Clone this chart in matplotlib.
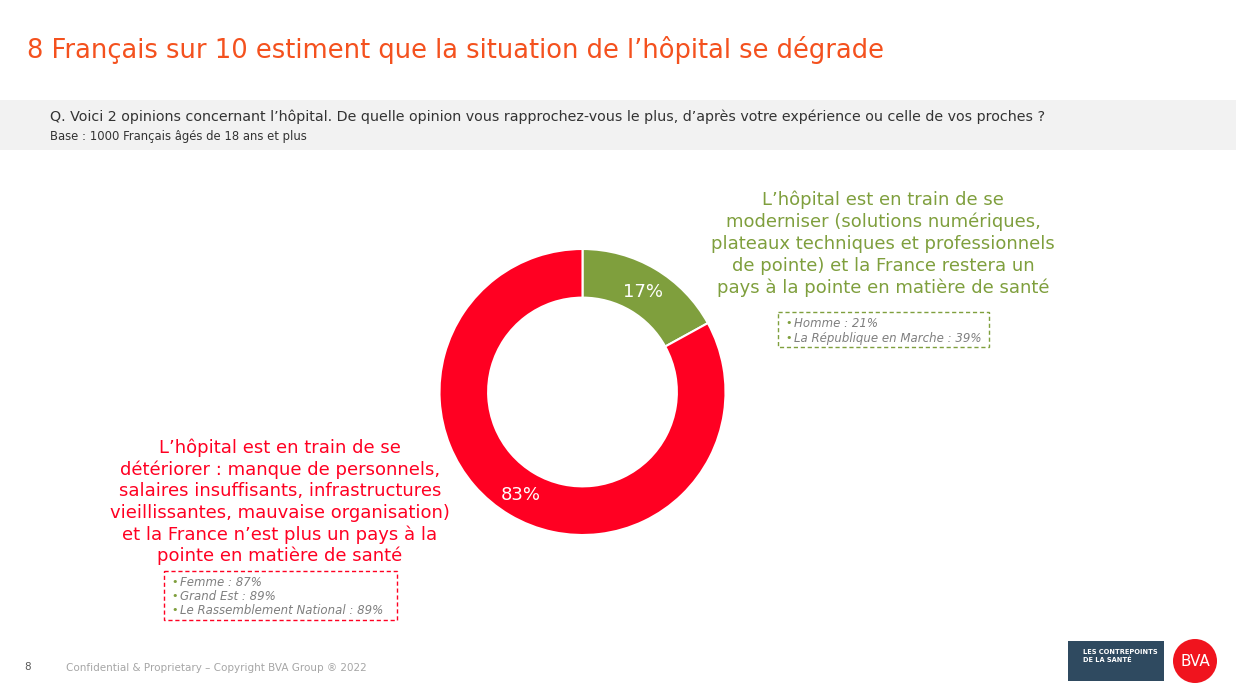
import matplotlib
matplotlib.use("Agg")
import matplotlib.pyplot as plt
from matplotlib.patches import Rectangle, Circle

# ── Data ────────────────────────────────────────────────────────────────────
labels = ["Moderniser", "Détériorer"]
values = [17, 83]
colors = ["#7f9f3d", "#ff0022"]

W, H = 1236, 694
C_TITLE = "#f4511e"
C_GREEN = "#7f9f3d"
C_RED = "#ff0022"
C_GREY = "#7f7f7f"

fig = plt.figure(figsize=(W / 100, H / 100), dpi=100)
fig.patch.set_facecolor("white")
ax = fig.add_axes([0, 0, 1, 1])
ax.set_xlim(0, W)
ax.set_ylim(H, 0)
ax.axis("off")

# ── Title & question band ───────────────────────────────────────────────────
ax.text(27, 50, "8 Français sur 10 estiment que la situation de l\u2019hôpital se dégrade",
        fontsize=18.5, color=C_TITLE, va="center", ha="left")
ax.add_patch(Rectangle((0, 100), W, 50, facecolor="#f2f2f2", edgecolor="none"))
ax.text(50, 117, "Q. Voici 2 opinions concernant l\u2019hôpital. De quelle opinion vous rapprochez-vous "
        "le plus, d\u2019après votre expérience ou celle de vos proches ?",
        fontsize=10.3, color="#333333", va="center", ha="left")
ax.text(50, 136, "Base : 1000 Français âgés de 18 ans et plus",
        fontsize=8.4, color="#333333", va="center", ha="left")

# ── Donut ───────────────────────────────────────────────────────────────────
cx, cy, r = 582.5, 392, 143
pax = fig.add_axes([(cx - r) / W, (H - cy - r) / H, 2 * r / W, 2 * r / H])
pax.pie(values, colors=colors, startangle=90, counterclock=False, radius=1,
        wedgeprops=dict(width=0.34, edgecolor="white", linewidth=1.5))
pax.set_xlim(-1, 1)
pax.set_ylim(-1, 1)
pax.set_aspect("equal")
pax.axis("off")
pax.text(0.42, 0.70, f"{values[0]}%", color="white", fontsize=13,
         ha="center", va="center")
pax.text(-0.43, -0.72, f"{values[1]}%", color="white", fontsize=13,
         ha="center", va="center")

# ── Green opinion ───────────────────────────────────────────────────────────
green_lines = ["L\u2019hôpital est en train de se",
               "moderniser (solutions numériques,",
               "plateaux techniques et professionnels",
               "de pointe) et la France restera un",
               "pays à la pointe en matière de santé"]
for i, line in enumerate(green_lines):
    ax.text(883, 200 + i * 22, line, fontsize=13, color=C_GREEN,
            ha="center", va="center")
ax.add_patch(Rectangle((778, 312), 211, 35, facecolor="none", edgecolor=C_GREEN,
                       lw=1, ls=(0, (3, 2))))
for i, line in enumerate(["Homme : 21%", "La République en Marche : 39%"]):
    ax.text(785, 323 + i * 15, "\u2022", fontsize=8, color=C_GREEN,
            ha="left", va="center")
    ax.text(794, 323 + i * 15, line, fontsize=8.5, color=C_GREY,
            ha="left", va="center", style="italic")

# ── Red opinion ─────────────────────────────────────────────────────────────
red_lines = ["L\u2019hôpital est en train de se",
             "détériorer : manque de personnels,",
             "salaires insuffisants, infrastructures",
             "vieillissantes, mauvaise organisation)",
             "et la France n\u2019est plus un pays à la",
             "pointe en matière de santé"]
for i, line in enumerate(red_lines):
    ax.text(280, 448 + i * 21.6, line, fontsize=13, color=C_RED,
            ha="center", va="center")
ax.add_patch(Rectangle((164, 571), 233, 49, facecolor="none", edgecolor=C_RED,
                       lw=1, ls=(0, (3, 2))))
for i, line in enumerate(["Femme : 87%", "Grand Est : 89%",
                          "Le Rassemblement National : 89%"]):
    ax.text(171, 582 + i * 14, "\u2022", fontsize=8, color=C_GREEN,
            ha="left", va="center")
    ax.text(180, 582 + i * 14, line, fontsize=8.5, color=C_GREY,
            ha="left", va="center", style="italic")

# ── Footer ──────────────────────────────────────────────────────────────────
ax.text(24, 667, "8", fontsize=7.5, color="#595959", ha="left", va="center")
ax.text(66, 668, "Confidential & Proprietary \u2013 Copyright BVA Group \u00ae 2022",
        fontsize=7.5, color="#a6a6a6", ha="left", va="center")

ax.add_patch(Rectangle((1068, 641), 96, 40, facecolor="#2f4a60", edgecolor="none"))
ax.text(1083, 656, "LES CONTREPOINTS\nDE LA SANTÉ", fontsize=4.8, color="white",
        ha="left", va="center", fontweight="bold", linespacing=1.3)
ax.add_patch(Circle((1195, 661), 22, facecolor="#f0141e", edgecolor="none"))
ax.text(1195, 662, "BVA", fontsize=11, color="white", ha="center", va="center")

fig.savefig("out.png", dpi=100, facecolor="white")
